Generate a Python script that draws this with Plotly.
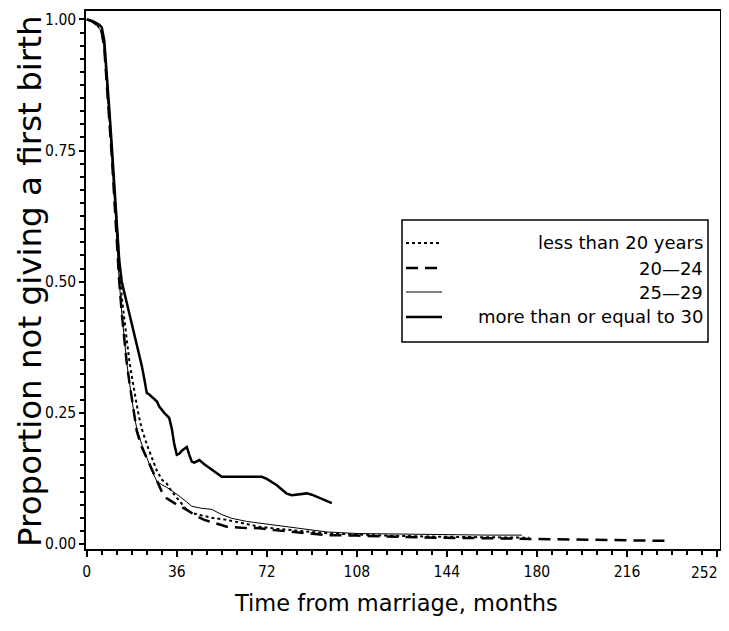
import plotly.graph_objects as go

# ---------------- data ----------------
m_lt20 = [0, 2, 4, 6, 7, 8, 9, 10, 11, 12, 13, 14, 15, 16, 17, 18, 19, 20, 21, 22, 24, 26, 28,
          30, 32, 34, 36, 38, 40, 42, 46, 50, 56, 62, 69, 76, 82, 90, 98, 108, 120, 140, 160, 177]
v_lt20 = [1.0, 0.997, 0.99, 0.978, 0.95, 0.89, 0.82, 0.75, 0.68, 0.60, 0.53, 0.47, 0.43, 0.385,
          0.35, 0.32, 0.29, 0.265, 0.24, 0.22, 0.19, 0.165, 0.14, 0.123, 0.115, 0.10, 0.088,
          0.075, 0.065, 0.059, 0.054, 0.05, 0.046, 0.04, 0.033, 0.029, 0.027, 0.023, 0.02,
          0.018, 0.016, 0.014, 0.013, 0.012]

m_20_24 = [0, 2, 4, 6, 7, 8, 9, 10, 11, 12, 13, 14, 15, 16, 17, 18, 19, 20, 22, 25, 28, 30, 32,
           36, 40, 44, 47, 52, 56, 62, 69, 76, 82, 90, 96, 108, 120, 140, 160, 176, 190, 210, 232]
v_20_24 = [1.0, 0.997, 0.99, 0.975, 0.945, 0.88, 0.81, 0.74, 0.66, 0.57, 0.50, 0.44, 0.39,
           0.345, 0.31, 0.275, 0.245, 0.215, 0.185, 0.152, 0.12, 0.10, 0.087, 0.075, 0.065,
           0.053, 0.046, 0.038, 0.033, 0.031, 0.03, 0.026, 0.023, 0.02, 0.017, 0.016, 0.014,
           0.012, 0.011, 0.010, 0.008, 0.007, 0.006]

m_25_29 = [0, 2, 4, 6, 7, 8, 9, 10, 11, 12, 13, 14, 15, 16, 17, 18, 19, 20, 22, 24, 26, 28, 30,
           32, 34, 36, 40, 42, 46, 50, 54, 58, 64, 70, 76, 82, 90, 96, 108, 120, 140, 160, 174]
v_25_29 = [1.0, 0.997, 0.99, 0.975, 0.945, 0.88, 0.81, 0.74, 0.66, 0.57, 0.50, 0.44, 0.39,
           0.345, 0.31, 0.275, 0.245, 0.22, 0.19, 0.165, 0.14, 0.12, 0.113, 0.108, 0.102,
           0.095, 0.08, 0.072, 0.068, 0.066, 0.056, 0.049, 0.043, 0.039, 0.035, 0.031, 0.026,
           0.023, 0.020, 0.019, 0.018, 0.017, 0.017]

m_ge30 = [0, 3, 5, 6, 7, 8, 9, 10, 11, 12, 13, 14, 15, 16, 17, 18, 19, 20, 21, 22, 23, 24, 25,
          26, 27, 28, 29, 30, 31, 32, 33, 34, 35, 36, 37, 38, 40, 41, 42, 43, 45, 47, 50, 52,
          54, 60, 66, 70, 72, 74, 76, 78, 80, 82, 86, 88, 90, 92, 95, 98]
v_ge30 = [1.0, 0.995, 0.99, 0.985, 0.96, 0.90, 0.83, 0.76, 0.68, 0.60, 0.54, 0.50, 0.48, 0.46,
          0.44, 0.42, 0.40, 0.385, 0.365, 0.34, 0.315, 0.288, 0.285, 0.28, 0.276, 0.272,
          0.262, 0.255, 0.25, 0.245, 0.24, 0.22, 0.19, 0.17, 0.172, 0.178, 0.185, 0.17,
          0.157, 0.155, 0.16, 0.152, 0.142, 0.135, 0.128, 0.128, 0.128, 0.128, 0.124, 0.118,
          0.112, 0.104, 0.096, 0.093, 0.095, 0.0965, 0.094, 0.09, 0.084, 0.078]

series_names = ["less than 20 years", "20\u201424", "25\u201429", "more than or equal to 30"]
x_ticks = [0, 36, 72, 108, 144, 180, 216, 252]
y_ticks = [0.0, 0.25, 0.50, 0.75, 1.00]
y_tick_text = ["0.00", "0.25", "0.50", "0.75", "1.00"]

# ---------------- styles ----------------
styles = [
    dict(color="black", width=2, dash="dot"),
    dict(color="black", width=2.5, dash="12px,7px"),
    dict(color="black", width=1, dash="solid"),
    dict(color="black", width=2.5, dash="solid"),
]
data = [(m_lt20, v_lt20), (m_20_24, v_20_24), (m_25_29, v_25_29), (m_ge30, v_ge30)]

fig = go.Figure()
for (mx, vy), name, st in zip(data, series_names, styles):
    fig.add_trace(go.Scatter(x=mx, y=vy, mode="lines", name=name, line=st,
                             showlegend=False))

# ---------------- layout ----------------
# the page body has an 8px default margin; size the figure so the page does not scroll
OFF = 8
W, H = 729 - OFF, 614
L, R, T = 78, 9, 3
B = H - (549 - OFF)
pw, ph = W - L - R, H - T - B


def px(xs):
    """screen x -> paper x"""
    return (xs - OFF - L) / pw


def py(ys):
    """screen y -> paper y"""
    return (H - B - (ys - OFF)) / ph


tick_font = dict(family="Liberation Sans Narrow, DejaVu Sans Condensed, Arial Narrow, sans-serif",
                 size=15.5, color="black")

# last x label would be clipped at the window edge: draw it as a right-anchored annotation
x_tick_text = [str(v) for v in x_ticks[:-1]] + [""]

fig.update_layout(
    width=W, height=H,
    margin=dict(l=L, r=R, t=T, b=B, autoexpand=False),
    paper_bgcolor="white", plot_bgcolor="white",
    xaxis=dict(
        range=[-0.3, 253.2], tickmode="array", tickvals=x_ticks, ticktext=x_tick_text,
        automargin=False,
        ticks="outside", ticklen=6, tickwidth=1.5, tickcolor="black",
        minor=dict(dtick=6, tick0=0, ticks="outside", ticklen=4, tickwidth=1.5, tickcolor="black"),
        showline=True, linecolor="black", linewidth=1.5, mirror=True,
        showgrid=False, zeroline=False, tickfont=tick_font, ticklabelstandoff=2,
        ticklabeloverflow="allow",
    ),
    yaxis=dict(
        range=[-0.0095, 1.016], tickmode="array", tickvals=y_ticks, ticktext=y_tick_text,
        automargin=False,
        ticks="outside", ticklen=5, tickwidth=1.5, tickcolor="black",
        minor=dict(dtick=0.025, tick0=0, ticks="outside", ticklen=4, tickwidth=1.5, tickcolor="black"),
        showline=True, linecolor="black", linewidth=1.5, mirror=True,
        showgrid=False, zeroline=False, tickfont=tick_font, ticklabeloverflow="allow",
    ),
)

fig.add_annotation(xref="paper", yref="paper", x=px(720), y=py(573), xanchor="right",
                   yanchor="middle", showarrow=False, text=str(x_ticks[-1]), font=tick_font)

# axis titles as positioned annotations
fig.add_annotation(xref="paper", yref="paper", x=px(30), y=py(281), xanchor="center",
                   yanchor="middle", textangle=-90, showarrow=False,
                   text="Proportion not giving a first birth",
                   font=dict(family="DejaVu Sans", size=32.5, color="black"))
fig.add_annotation(xref="paper", yref="paper", x=px(396), y=py(603), xanchor="center",
                   yanchor="middle", showarrow=False,
                   text="Time from marriage, months",
                   font=dict(family="DejaVu Sans", size=22.5, color="black"))

# ---------------- manual legend (right-aligned labels) ----------------
box = dict(x0=px(402), x1=px(708), y0=py(342), y1=py(220))
fig.add_shape(type="rect", xref="paper", yref="paper", **box,
              line=dict(color="black", width=1.5), fillcolor="white", layer="above")
row_y = [243, 268, 292, 317]
for name, st, yr in zip(series_names, styles, row_y):
    fig.add_shape(type="line", xref="paper", yref="paper",
                  x0=px(406), x1=px(442), y0=py(yr), y1=py(yr),
                  line=st, layer="above")
    fig.add_annotation(xref="paper", yref="paper", x=px(705), y=py(yr),
                       xanchor="right", yanchor="middle", showarrow=False,
                       text=name, font=dict(family="DejaVu Sans", size=18, color="black"))

fig.write_html("out.html")
